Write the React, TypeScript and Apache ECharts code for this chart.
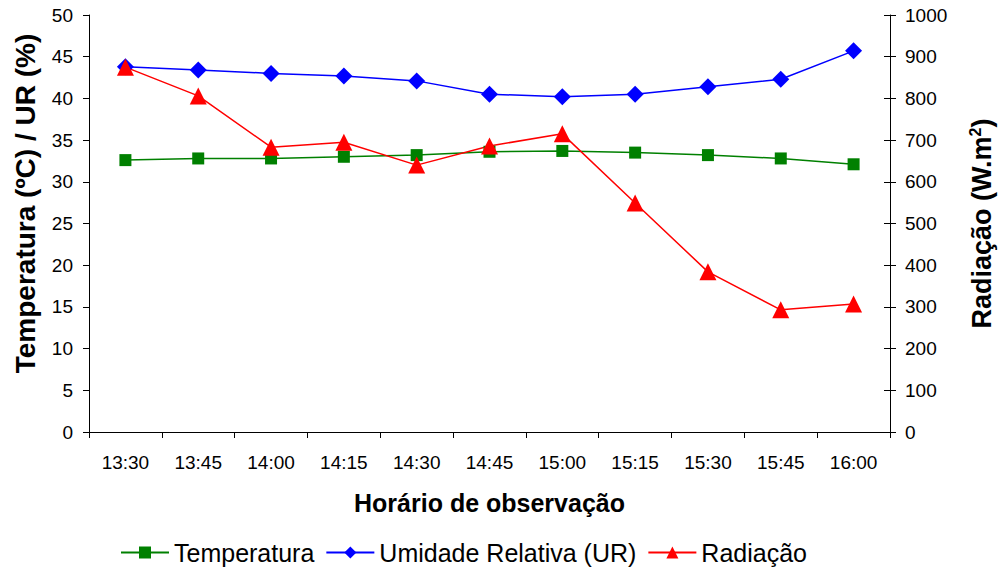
import React, { useEffect, useRef } from "react";
import * as echarts from "echarts";

const categories = ["13:30", "13:45", "14:00", "14:15", "14:30", "14:45", "15:00", "15:15", "15:30", "15:45", "16:00"];
const temperatura = [32.6, 32.8, 32.8, 33.0, 33.2, 33.6, 33.7, 33.5, 33.2, 32.8, 32.1];
const umidade = [43.8, 43.4, 43.0, 42.7, 42.1, 40.5, 40.2, 40.5, 41.4, 42.3, 45.7];
const radiacao = [875, 806, 683, 695, 640, 686, 715, 549, 384, 293, 307];

const FONT = "Liberation Sans, Arial, sans-serif";

export default function App() {
  const ref = useRef<HTMLDivElement>(null);
  useEffect(() => {
    const chart = echarts.init(ref.current!, null, { renderer: "svg" });
    const innerTicks = (min: number, max: number, interval: number, position: string) => ({
      type: "value",
      min,
      max,
      interval,
      position,
      axisLine: { show: false },
      axisTick: { show: true, inside: true, length: 6, lineStyle: { color: "#000" } },
      axisLabel: { show: false },
      splitLine: { show: false },
    });
    chart.setOption({
      animation: false,
      textStyle: { fontFamily: FONT },
      grid: { left: 89, right: 109, top: 15, bottom: 138, outerBoundsMode: "none", containLabel: false },
      legend: {
        left: 115,
        bottom: 0,
        itemWidth: 48,
        itemHeight: 15,
        itemGap: 11,
        textStyle: { fontSize: 25, color: "#000", fontFamily: FONT },
        data: ["Temperatura", "Umidade Relativa (UR)", "Radiação"],
      },
      xAxis: {
        type: "category",
        data: categories,
        boundaryGap: true,
        name: "Horário de observação",
        nameLocation: "middle",
        nameGap: 58,
        nameTextStyle: { fontSize: 25, fontWeight: "bold", color: "#000", fontFamily: FONT },
        axisLine: { lineStyle: { color: "#000", width: 1 } },
        axisTick: { show: true, alignWithLabel: false, length: 6, lineStyle: { color: "#000" } },
        axisLabel: { fontSize: 19, color: "#000", margin: 21, fontFamily: FONT },
        splitLine: { show: false },
      },
      yAxis: [
        {
          type: "value",
          min: 0,
          max: 50,
          interval: 5,
          position: "left",
          name: "Temperatura (ºC) / UR (%)",
          nameLocation: "middle",
          nameRotate: 90,
          nameGap: 50,
          nameTextStyle: { fontSize: 28, fontWeight: "bold", color: "#000", fontFamily: FONT, padding: [0, 0, 0, 40] },
          axisLine: { show: true, lineStyle: { color: "#000" } },
          axisTick: { show: true, length: 6, lineStyle: { color: "#000" } },
          axisLabel: { fontSize: 19, color: "#000", margin: 16, fontFamily: FONT },
          splitLine: { show: false },
        },
        {
          type: "value",
          min: 0,
          max: 1000,
          interval: 100,
          position: "right",
          name: "Radiação (W.m{sup|2})",
          nameLocation: "middle",
          nameRotate: 90,
          nameGap: 77,
          nameTextStyle: {
            fontSize: 27,
            fontWeight: "bold",
            color: "#000",
            fontFamily: FONT,
            rich: {
              sup: { fontSize: 16, fontWeight: "bold", color: "#000", verticalAlign: "top", padding: [0, 0, 13, 0], fontFamily: FONT },
            },
          },
          axisLine: { show: true, lineStyle: { color: "#000" } },
          axisTick: { show: true, length: 6, lineStyle: { color: "#000" } },
          axisLabel: { fontSize: 19, color: "#000", margin: 15, fontFamily: FONT, formatter: (v: number) => String(v) },
          splitLine: { show: false },
        },
        innerTicks(0, 1000, 100, "right"),
      ],
      series: [
        {
          name: "Temperatura",
          type: "line",
          yAxisIndex: 0,
          data: temperatura,
          symbol: "rect",
          symbolSize: 12,
          lineStyle: { color: "#008000", width: 1.5 },
          itemStyle: { color: "#008000" },
        },
        {
          name: "Umidade Relativa (UR)",
          type: "line",
          yAxisIndex: 0,
          data: umidade,
          symbol: "diamond",
          symbolSize: 17,
          lineStyle: { color: "#0000ff", width: 1.5 },
          itemStyle: { color: "#0000ff" },
        },
        {
          name: "Radiação",
          type: "line",
          yAxisIndex: 1,
          data: radiacao,
          symbol: "triangle",
          symbolSize: 17,
          lineStyle: { color: "#ff0000", width: 1.5 },
          itemStyle: { color: "#ff0000" },
        },
      ],
    });
    return () => chart.dispose();
  }, []);
  return <div ref={ref} style={{ width: 999, height: 570, position: "absolute", left: 0, top: 0 }} />;
}
